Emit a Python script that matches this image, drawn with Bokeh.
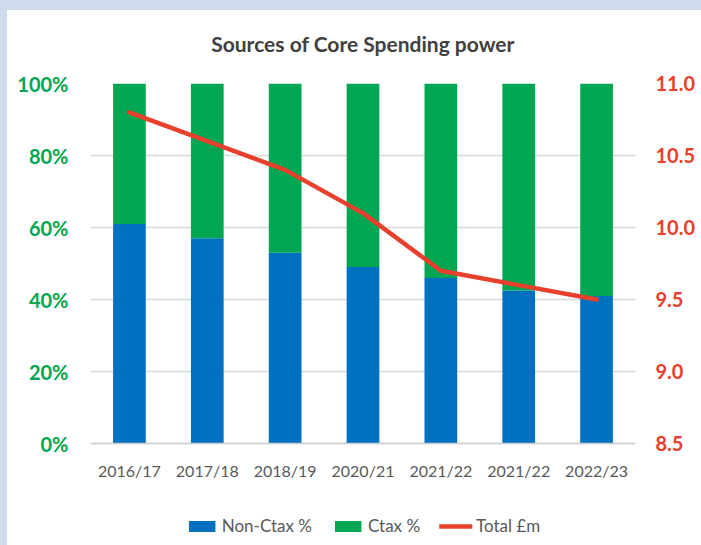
from bokeh.plotting import figure
from bokeh.models import (Range1d, LinearAxis, FixedTicker, NumeralTickFormatter,
                          Legend, LegendItem, ColumnDataSource)
from bokeh.embed import file_html
from bokeh.resources import INLINE

# ---- data ----
categories = ["2016/17", "2017/18", "2018/19", "2020/21", "2021/22", "2021/22", "2022/23"]
non_ctax_pct = [61, 57, 53, 49, 46, 42.5, 41]
ctax_pct = [100 - v for v in non_ctax_pct]
total_m = [10.8, 10.6, 10.4, 10.1, 9.7, 9.6, 9.5]
left_ticks = [0, 20, 40, 60, 80, 100]
right_ticks = [8.5, 9.0, 9.5, 10.0, 10.5, 11.0]

FONT = "Lato"
BLUE = "#0070c0"
GREEN = "#00a651"
RED = "#e8402c"

# layout: the frame extends below the 0 line to hold the category labels and legend
PLOT_H = 360          # px between 0% and 100%
BELOW_H = 102         # px below the 0 line (labels + legend)
ext = BELOW_H / PLOT_H

idx = list(range(len(categories)))
src = ColumnDataSource(dict(x=idx,
                            non=[v / 100 for v in non_ctax_pct],
                            ctax=[v / 100 for v in ctax_pct],
                            total=total_m))

p = figure(frame_width=545, frame_height=PLOT_H + BELOW_H, output_backend="svg",
           toolbar_location=None,
           x_range=Range1d(-0.5, len(categories) - 0.5), y_range=Range1d(-ext, 1),
           min_border_left=90, min_border_right=66, min_border_top=83, min_border_bottom=0)
rspan = right_ticks[-1] - right_ticks[0]
p.extra_y_ranges = {"tot": Range1d(right_ticks[0] - ext * rspan, right_ticks[-1])}

p.title.text = "Sources of Core Spending power"
p.title.align = "center"
p.title.text_font = FONT
p.title.text_font_size = "21px"
p.title.text_font_style = "bold"
p.title.text_color = "#404040"
p.title.standoff = 56

p.outline_line_color = None
p.background_fill_color = "white"
p.border_fill_color = None
p.border_fill_alpha = 0

bars = p.vbar_stack(["non", "ctax"], x="x", width=0.42, source=src,
                    color=[BLUE, GREEN], line_color=None)
line = p.line("x", "total", source=src, y_range_name="tot", color=RED,
              line_width=4.5, line_join="round", line_cap="round")

# left axis
ya = p.yaxis[0]
ya.ticker = FixedTicker(ticks=[t / 100 for t in left_ticks])
ya.formatter = NumeralTickFormatter(format="0%")
ya.axis_line_color = None
ya.major_tick_line_color = None
ya.minor_tick_line_color = None
ya.major_tick_out = 0
ya.major_tick_in = 0
ya.major_label_text_font = FONT
ya.major_label_text_font_size = "20px"
ya.major_label_text_font_style = "bold"
ya.major_label_text_color = GREEN
ya.major_label_standoff = 22

# right axis
ra = LinearAxis(y_range_name="tot", ticker=FixedTicker(ticks=right_ticks),
                formatter=NumeralTickFormatter(format="0.0"))
ra.axis_line_color = None
ra.major_tick_line_color = None
ra.minor_tick_line_color = None
ra.major_tick_out = 0
ra.major_tick_in = 0
ra.major_label_text_font = FONT
ra.major_label_text_font_size = "20px"
ra.major_label_text_font_style = "bold"
ra.major_label_text_color = RED
ra.major_label_standoff = 20
p.add_layout(ra, "right")

# bottom (category) axis, drawn on the 0 line
xa = p.xaxis[0]
xa.fixed_location = 0
xa.ticker = FixedTicker(ticks=idx)
xa.major_label_overrides = {i: c for i, c in zip(idx, categories)}
xa.axis_line_color = "#d0d0d0"
xa.axis_line_width = 1.5
xa.major_tick_line_color = None
xa.minor_tick_line_color = None
xa.major_tick_out = 0
xa.major_tick_in = 0
xa.major_label_text_font = FONT
xa.major_label_text_font_size = "16px"
xa.major_label_text_color = "#595959"
xa.major_label_standoff = 17

p.xgrid.grid_line_color = None
p.ygrid.grid_line_color = "#d9d9d9"
p.ygrid.grid_line_width = 1.5

legend = Legend(items=[LegendItem(label="Non-Ctax %", renderers=[bars[0]]),
                       LegendItem(label="Ctax %", renderers=[bars[1]]),
                       LegendItem(label="Total £m", renderers=[line])],
                orientation="horizontal", location="bottom_center",
                label_text_font=FONT, label_text_font_size="17px",
                label_text_color="#595959", glyph_width=33, glyph_height=14,
                label_standoff=4, spacing=19, padding=4, margin=9,
                border_line_color=None, background_fill_alpha=0)
p.add_layout(legend)

html = file_html(p, INLINE, title="Sources of Core Spending power")
css = ("<style>html{background-color:#ffffff;"
       "background-image:linear-gradient(to right,#cfdbec 7px,rgba(255,255,255,0) 7px),"
       "linear-gradient(to bottom,#cfdbec 10px,rgba(255,255,255,0) 10px);"
       "background-repeat:no-repeat;}"
       "body{background:transparent;overflow:hidden;}</style></head>")
html = html.replace("</head>", css, 1)
open("out.html", "w").write(html)
